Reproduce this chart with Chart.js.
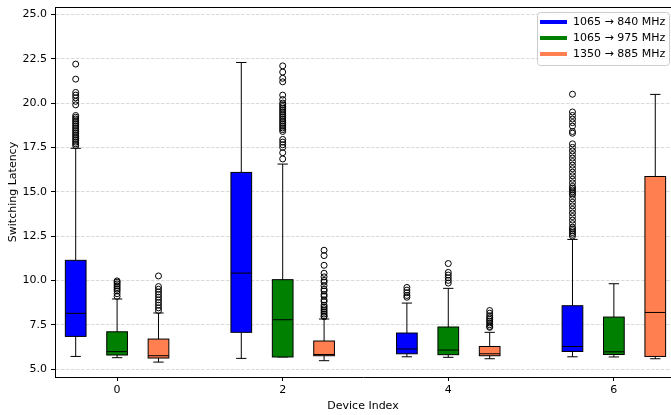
<!DOCTYPE html>
<html>
<head>
<meta charset="utf-8">
<script src="https://cdn.jsdelivr.net/npm/chart.js@4/dist/chart.umd.min.js"></script>
<style>
  html, body { margin: 0; padding: 0; background: #ffffff; overflow: hidden; }
  #wrap { width: 671px; height: 415px; }
</style>
</head>
<body>
<div id="wrap"><canvas id="chart" width="671" height="415"></canvas></div>
<script>
// Device indices on the x axis
const devices = [0, 2, 4, 6];
const xTicks = [0, 2, 4, 6];
const yTicks = [5, 7.5, 10, 12.5, 15, 17.5, 20, 22.5, 25];

const seriesNames = ['1065 → 840 MHz', '1065 → 975 MHz', '1350 → 885 MHz'];
const seriesColors = ['#0000ff', '#008000', '#ff7f50'];

// Box statistics per device: [lower whisker, Q1, median, Q3, upper whisker]
const box840 = [
  [5.71, 6.84, 8.14, 11.13, 17.45],
  [5.60, 7.07, 10.41, 16.09, 22.29],
  [5.69, 5.86, 6.13, 7.03, 8.72],
  [5.69, 5.99, 6.27, 8.57, 12.31]
];
const box975 = [
  [5.64, 5.79, 5.98, 7.10, 8.95],
  [5.68, 5.68, 7.78, 10.04, 16.56],
  [5.66, 5.81, 6.07, 7.37, 9.55],
  [5.68, 5.82, 5.97, 7.93, 9.81]
];
const box885 = [
  [5.39, 5.62, 5.75, 6.69, 8.16],
  [5.47, 5.75, 5.82, 6.58, 7.82],
  [5.58, 5.75, 5.86, 6.27, 7.07],
  [5.58, 5.71, 8.19, 15.86, 20.49]
];

// Outliers per device
const out840 = [
  [22.2, 21.35, 20.6, 20.45, 20.3, 20.1, 19.9, 19.3, 19.2, 19.1, 19.0, 18.9, 18.8, 18.7,
   18.6, 18.5, 18.4, 18.3, 18.2, 18.1, 18.0, 17.9, 17.8, 17.7, 17.6],
  [],
  [9.6, 9.45, 9.3, 9.15, 9.05],
  [20.5, 19.5, 19.3, 19.1, 18.9, 18.7, 18.4, 18.3, 17.7, 17.5, 17.3, 17.1, 16.9, 16.7,
   16.5, 16.3, 16.1, 15.9, 15.7, 15.5, 15.3, 15.2, 15.1, 15.0, 14.9, 14.8, 14.6, 14.4,
   14.2, 14.0, 13.8, 13.6, 13.4, 13.2, 13.0, 12.9, 12.8, 12.7, 12.6, 12.5]
];
const out975 = [
  [9.97, 9.9, 9.8, 9.7, 9.6, 9.5, 9.4, 9.25, 9.1],
  [22.1, 21.75, 21.4, 21.2, 20.45, 20.2, 20.0, 19.9, 19.8, 19.7, 19.6, 19.5, 19.4, 19.3,
   19.2, 19.1, 19.0, 18.9, 18.8, 18.7, 18.6, 18.5, 18.4, 17.95, 17.8, 17.65, 17.5, 17.2, 16.85],
  [10.95, 10.45, 10.3, 10.15, 10.0, 9.85],
  []
];
const out885 = [
  [10.25, 9.65, 9.5, 9.35, 9.2, 9.05, 8.9, 8.75, 8.6, 8.45, 8.3],
  [11.7, 11.4, 10.85, 10.4, 10.2, 10.0, 9.9, 9.7, 9.5, 9.4, 9.2, 9.1, 8.9, 8.8, 8.6,
   8.5, 8.4, 8.3, 8.2, 8.1, 8.0, 7.95],
  [8.3, 8.15, 8.0, 7.9, 7.8, 7.7, 7.6, 7.5, 7.4, 7.35],
  []
];

const boxes = [box840, box975, box885];
const outliers = [out840, out975, out885];

// Layout of each group: series offset from the device index, and box width (x units)
const groupOffsets = [-0.5, 0, 0.5];
const boxWidth = 0.25;

const FONT = 'DejaVu Sans';
const FONT_SIZE = 11;

const datasets = outliers.map((series, s) => ({
  label: seriesNames[s],
  data: series.flatMap((vals, d) => vals.map(v => ({ x: devices[d] + groupOffsets[s], y: v }))),
  pointRadius: 3,
  pointHoverRadius: 3,
  pointBorderWidth: 1,
  pointBorderColor: '#000000',
  pointBackgroundColor: 'rgba(0,0,0,0)',
  showLine: false
}));

// Draws boxes, whiskers and medians through the chart's scales
const boxPlotPlugin = {
  id: 'boxPlot',
  beforeDatasetsDraw(chart) {
    const { ctx, chartArea, scales: { x, y } } = chart;
    ctx.save();
    ctx.beginPath();
    ctx.rect(chartArea.left, chartArea.top, chart.width - chartArea.left, chartArea.bottom - chartArea.top);
    ctx.clip();
    boxes.forEach((series, s) => {
      series.forEach((st, d) => {
        const pos = devices[d] + groupOffsets[s];
        const xl = x.getPixelForValue(pos - boxWidth / 2);
        const xr = x.getPixelForValue(pos + boxWidth / 2);
        const xc = x.getPixelForValue(pos);
        const capL = x.getPixelForValue(pos - boxWidth / 4);
        const capR = x.getPixelForValue(pos + boxWidth / 4);
        const [lo, q1, med, q3, hi] = st.map(v => y.getPixelForValue(v));
        ctx.strokeStyle = '#000000';
        ctx.lineWidth = 1;
        // whiskers
        ctx.beginPath();
        ctx.moveTo(xc, q1); ctx.lineTo(xc, lo);
        ctx.moveTo(xc, q3); ctx.lineTo(xc, hi);
        ctx.moveTo(capL, lo); ctx.lineTo(capR, lo);
        ctx.moveTo(capL, hi); ctx.lineTo(capR, hi);
        ctx.stroke();
        // box
        ctx.fillStyle = seriesColors[s];
        ctx.fillRect(xl, q3, xr - xl, q1 - q3);
        ctx.strokeRect(xl, q3, xr - xl, q1 - q3);
        // median
        ctx.beginPath();
        ctx.moveTo(xl, med); ctx.lineTo(xr, med);
        ctx.stroke();
      });
    });
    ctx.restore();
  },
  afterDraw(chart) {
    const { ctx, chartArea } = chart;
    ctx.save();
    // top frame
    ctx.strokeStyle = '#000000';
    ctx.lineWidth = 1;
    ctx.beginPath();
    ctx.moveTo(chartArea.left, chartArea.top + 0.5);
    ctx.lineTo(chart.width, chartArea.top + 0.5);
    ctx.stroke();
    // legend
    const lx = 537.5, ly = 12.5, lw = 132, lh = 53, r = 3;
    ctx.beginPath();
    ctx.moveTo(lx + r, ly);
    ctx.lineTo(lx + lw - r, ly); ctx.arcTo(lx + lw, ly, lx + lw, ly + r, r);
    ctx.lineTo(lx + lw, ly + lh - r); ctx.arcTo(lx + lw, ly + lh, lx + lw - r, ly + lh, r);
    ctx.lineTo(lx + r, ly + lh); ctx.arcTo(lx, ly + lh, lx, ly + lh - r, r);
    ctx.lineTo(lx, ly + r); ctx.arcTo(lx, ly, lx + r, ly, r);
    ctx.closePath();
    ctx.fillStyle = 'rgba(255,255,255,0.8)';
    ctx.fill();
    ctx.strokeStyle = '#cccccc';
    ctx.stroke();
    ctx.font = FONT_SIZE + 'px "' + FONT + '"';
    ctx.textBaseline = 'middle';
    ctx.textAlign = 'left';
    seriesNames.forEach((name, i) => {
      const yy = 22 + i * 16;
      ctx.strokeStyle = seriesColors[i];
      ctx.lineWidth = 4;
      ctx.beginPath();
      ctx.moveTo(540, yy); ctx.lineTo(567, yy);
      ctx.stroke();
      ctx.fillStyle = '#000000';
      ctx.fillText(name, 573, yy + 0.5);
    });
    ctx.restore();
  }
};

new Chart(document.getElementById('chart'), {
  type: 'scatter',
  data: { datasets },
  plugins: [boxPlotPlugin],
  options: {
    responsive: false,
    animation: false,
    devicePixelRatio: 1,
    clip: false,
    layout: { autoPadding: false, padding: { top: 7, right: 0, left: 0, bottom: 0 } },
    plugins: { legend: { display: false }, tooltip: { enabled: false } },
    scales: {
      x: {
        type: 'linear',
        min: -0.75,
        max: 6.69,
        afterBuildTicks: s => { s.ticks = xTicks.map(v => ({ value: v })); },
        afterFit: s => { s.height = 38; s.paddingLeft = 0; s.paddingRight = 0; },
        grid: { drawOnChartArea: false, drawTicks: true, tickLength: 4, tickColor: '#000000', tickWidth: 1 },
        border: { display: true, color: '#000000', width: 1 },
        ticks: { color: '#000000', font: { family: FONT, size: FONT_SIZE }, padding: 3, maxRotation: 0, callback: v => String(v) },
        title: { display: true, text: 'Device Index', color: '#000000', font: { family: FONT, size: FONT_SIZE }, padding: { top: 1, bottom: 2 } }
      },
      y: {
        type: 'linear',
        min: 4.55,
        max: 25.42,
        afterBuildTicks: s => { s.ticks = yTicks.map(v => ({ value: v })); },
        afterFit: s => { s.width = 55; s.paddingTop = 0; s.paddingBottom = 0; },
        grid: { color: '#d0d0d0', lineWidth: 0.8, drawTicks: true, tickLength: 4, tickColor: '#000000', tickWidth: 1, tickBorderDash: [] },
        border: { display: true, color: '#000000', width: 1, dash: [3.5, 1.5] },
        ticks: { color: '#000000', font: { family: FONT, size: FONT_SIZE }, padding: 4, callback: v => v.toFixed(1) },
        title: { display: true, text: 'Switching Latency', color: '#000000', font: { family: FONT, size: FONT_SIZE }, padding: { top: 7, bottom: 0 } }
      }
    }
  }
});
</script>
</body>
</html>
